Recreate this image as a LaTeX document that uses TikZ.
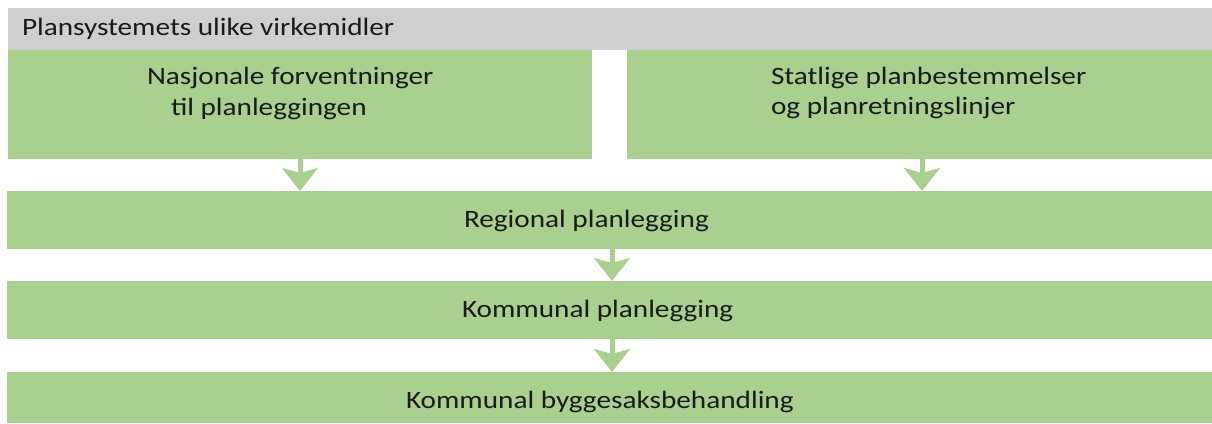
\documentclass[tikz,border=0pt]{standalone}
\usepackage{fontspec}
\setmainfont{Carlito}
\usetikzlibrary{arrows.meta}
\definecolor{planGreen}{HTML}{A9D08E}
\definecolor{planGray}{HTML}{D0CECE}
\definecolor{planText}{HTML}{1A1A1A}
% labels are set a little wider than the font's natural width
\newcommand{\wide}[1]{\scalebox{1.17}[1]{#1}}
\begin{document}
\begin{tikzpicture}[x=1pt,y=-1pt,
  band/.style={rectangle,inner sep=0pt,outer sep=0pt,fill=planGreen,draw=none},
  headband/.style={band,fill=planGray},
  label/.style={inner sep=0pt,outer sep=0pt,anchor=base west,text=planText,
                font=\fontsize{25}{30}\selectfont},
  flow/.style={draw=planGreen,line width=5pt,
               -{Stealth[length=23pt,width=36pt,inset=5pt]}}]
\useasboundingbox (0,0) rectangle (1212,423);

% background bands
\node[headband,minimum width=1204pt,minimum height=42pt] (head) at (610,29) {};
\node[band,minimum width=584pt,minimum height=109pt] (nat) at (300,104.5) {};
\node[band,minimum width=585pt,minimum height=109pt] (stat) at (919.5,104.5) {};
\node[band,minimum width=1205pt,minimum height=58pt] (reg) at (609.5,220) {};
\node[band,minimum width=1205pt,minimum height=58pt] (kom) at (609.5,310) {};
\node[band,minimum width=1205pt,minimum height=51pt] (byg) at (609.5,397.5) {};

% texts
\node[label] (headT) at (22,35) {\wide{Plansystemets ulike virkemidler}};
\node[label] (natA) at (147,84) {\wide{Nasjonale forventninger}};
\node[label] (natB) at (171,115) {\wide{til planleggingen}};
\node[label] (statA) at (771,84) {\wide{Statlige planbestemmelser}};
\node[label] (statB) at (771,114) {\wide{og planretningslinjer}};
\node[label] (regT) at (464,227) {\wide{Regional planlegging}};
\node[label] (komT) at (462,317) {\wide{Kommunal planlegging}};
\node[label] (bygT) at (406,408) {\wide{Kommunal byggesaksbehandling}};

% arrows between levels
\coordinate (xl) at (300,0);
\coordinate (xr) at (922,0);
\coordinate (xm) at (612,0);
\draw[flow] (nat.south -| xl) -- (reg.north -| xl);
\draw[flow] (stat.south -| xr) -- (reg.north -| xr);
\draw[flow] (reg.south -| xm) -- (kom.north -| xm);
\draw[flow] (kom.south -| xm) -- (byg.north -| xm);
\end{tikzpicture}
\end{document}
